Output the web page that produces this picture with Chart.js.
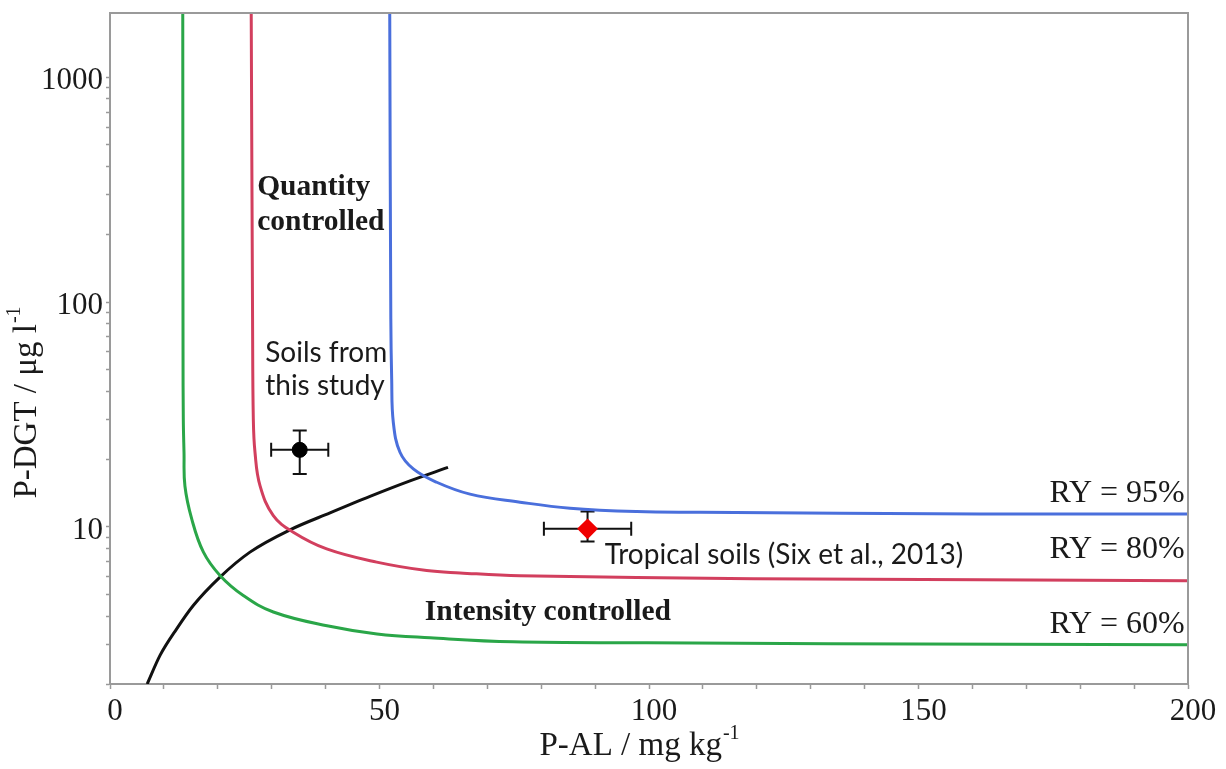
<!DOCTYPE html>
<html>
<head>
<meta charset="utf-8">
<script src="https://cdn.jsdelivr.net/npm/chart.js@4.4.0/dist/chart.umd.min.js"></script>
<style>
  html, body { margin: 0; padding: 0; background: #ffffff; }
  #wrap { width: 1226px; height: 769px; position: relative; }
  canvas { display: block; }
</style>
</head>
<body>
<div id="wrap"><canvas id="chart" width="1226" height="769"></canvas></div>
<script>
// Critical P-DGT / P-AL curves for three relative-yield levels
const pAL60  = [13.5, 13.55, 13.6, 13.73, 13.9, 15.16, 17.31, 20.41, 24.73, 30.3, 40.26, 49.54, 59.37, 74.77, 99.63, 133.6, 200];
const pDGT60 = [1930, 60, 30.2, 21.5, 15.2, 10.85, 7.74, 6.08, 4.95, 4.18, 3.63, 3.34, 3.21, 3.08, 3.05, 3.02, 2.99];

const pAL80  = [26.2, 26.45, 26.59, 26.9, 27.83, 30.3, 34.0, 40.2, 49.48, 58.76, 64.94, 76.07, 119.3, 161.4, 200];
const pDGT80 = [1930, 84, 30.2, 21.47, 15.26, 11.23, 9.47, 7.98, 6.97, 6.39, 6.24, 6.06, 5.88, 5.82, 5.76];

const pAL95  = [51.9, 52.1, 52.26, 52.56, 53.8, 56.27, 60.61, 66.79, 76.07, 85.34, 97.72, 109.46, 161.4, 200];
const pDGT95 = [1930, 84, 45.5, 29.2, 21.47, 18.1, 15.79, 13.98, 12.88, 12.1, 11.69, 11.62, 11.42, 11.42];

// Boundary between quantity- and intensity-controlled supply
const pALBoundary  = [6.9, 9.28, 12.37, 15.45, 20.41, 25.97, 33.4, 40.82, 48.24, 55.66, 62.71];
const pDGTBoundary = [2.0, 2.68, 3.52, 4.47, 5.98, 7.72, 9.70, 11.54, 13.66, 16.01, 18.38];

// Mean soil values with error ranges
const studyPAL = [35.2], studyPALErr = [5.3];
const studyDGT = [22.0], studyDGTLow = [17.2], studyDGTHigh = [26.8];
const tropPAL = [88.6], tropPALErr = [8.1];
const tropDGT = [9.8], tropDGTLow = [8.6], tropDGTHigh = [11.7];

// Axis ticks
const xTickValues = [0,10,20,30,40,50,60,70,80,90,100,110,120,130,140,150,160,170,180,190,200];
const xLabelValues = [0, 50, 100, 150, 200];
const yTickValues = [2,3,4,5,6,7,8,9,10,20,30,40,50,60,70,80,90,100,200,300,400,500,600,700,800,900,1000];
const yLabelValues = [10, 100, 1000];

const toXY = (xs, ys) => xs.map((x, i) => ({ x: x, y: ys[i] }));

const SERIF = '"Liberation Serif", "Times New Roman", serif';
const SANS = 'Lato, "Noto Sans", sans-serif';
const AXIS_GREY = '#9a9a9a';

const curve = (label, xs, ys, color, mode) => ({
  label: label,
  data: toXY(xs, ys),
  showLine: true,
  borderColor: color,
  borderWidth: 3,
  pointRadius: 0,
  tension: 0.4,
  cubicInterpolationMode: mode || 'default',
  fill: false
});

// Error bars for the soil means, drawn under the markers
const errorBars = {
  id: 'errorBars',
  beforeDatasetDraw(chart, args) {
    const ds = chart.data.datasets[args.index];
    if (!ds.errors) return;
    const xs = chart.scales.x, ys = chart.scales.y, ctx = chart.ctx;
    const e = ds.errors;
    ctx.save();
    ctx.strokeStyle = '#111';
    ctx.lineWidth = 2;
    const cap = 7;
    ds.data.forEach((p, i) => {
      const cx = xs.getPixelForValue(p.x), cy = ys.getPixelForValue(p.y);
      const xl = xs.getPixelForValue(p.x - e.xErr[i]), xr = xs.getPixelForValue(p.x + e.xErr[i]);
      const yt = ys.getPixelForValue(e.yHigh[i]), yb = ys.getPixelForValue(e.yLow[i]);
      ctx.beginPath();
      ctx.moveTo(xl, cy); ctx.lineTo(xr, cy);
      ctx.moveTo(xl, cy - cap); ctx.lineTo(xl, cy + cap);
      ctx.moveTo(xr, cy - cap); ctx.lineTo(xr, cy + cap);
      ctx.moveTo(cx, yt); ctx.lineTo(cx, yb);
      ctx.moveTo(cx - cap, yt); ctx.lineTo(cx + cap, yt);
      ctx.moveTo(cx - cap, yb); ctx.lineTo(cx + cap, yb);
      ctx.stroke();
    });
    ctx.restore();
  }
};

// Frame, axis titles and region annotations
const decorations = {
  id: 'decorations',
  afterDraw(chart) {
    const ctx = chart.ctx, a = chart.chartArea;
    const xs = chart.scales.x, ys = chart.scales.y;
    ctx.save();
    ctx.strokeStyle = AXIS_GREY;
    ctx.lineWidth = 2;
    ctx.beginPath();
    ctx.moveTo(a.left, a.top); ctx.lineTo(a.right, a.top); ctx.lineTo(a.right, a.bottom);
    ctx.stroke();

    ctx.fillStyle = '#1a1a1a';
    ctx.textBaseline = 'middle';
    const notes = [
      { t: 'Quantity', x: 27.3, y: 325, f: 'bold 29.5px ' + SERIF, al: 'left' },
      { t: 'controlled', x: 27.3, y: 225, f: 'bold 29.5px ' + SERIF, al: 'left' },
      { t: 'Soils from', x: 28.8, y: 59.3, f: '28px ' + SANS, al: 'left' },
      { t: 'this study', x: 28.8, y: 42.3, f: '28px ' + SANS, al: 'left' },
      { t: 'Tropical soils (Six et al., 2013)', x: 91.8, y: 7.5, f: '28px ' + SANS, al: 'left' },
      { t: 'Intensity controlled', x: 58.4, y: 4.15, f: 'bold 29.5px ' + SERIF, al: 'left' },
      { t: 'RY = 95%', x: 199.4, y: 14.0, f: '32px ' + SERIF, al: 'right' },
      { t: 'RY = 80%', x: 199.4, y: 7.9, f: '32px ' + SERIF, al: 'right' },
      { t: 'RY = 60%', x: 199.4, y: 3.66, f: '32px ' + SERIF, al: 'right' }
    ];
    notes.forEach(n => {
      ctx.font = n.f;
      ctx.textAlign = n.al;
      ctx.fillText(n.t, xs.getPixelForValue(n.x), ys.getPixelForValue(n.y));
    });

    // axis title with a superscript exponent
    const titleWithSup = (main, sup, cx, cy) => {
      ctx.font = '33px ' + SERIF;
      const w1 = ctx.measureText(main).width;
      ctx.font = '20px ' + SERIF;
      const w2 = ctx.measureText(sup).width;
      const start = cx - (w1 + w2) / 2;
      ctx.textAlign = 'left';
      ctx.font = '33px ' + SERIF;
      ctx.fillText(main, start, cy);
      ctx.font = '20px ' + SERIF;
      ctx.fillText(sup, start + w1 + 1, cy - 12);
    };
    titleWithSup('P-AL / mg kg', '-1', (a.left + a.right) / 2 - 10, 746);
    ctx.save();
    ctx.translate(27, 403);
    ctx.rotate(-Math.PI / 2);
    titleWithSup('P-DGT / \u03bcg l', '-1', 0, 0);
    ctx.restore();
    ctx.restore();
  }
};

new Chart(document.getElementById('chart'), {
  type: 'scatter',
  data: {
    datasets: [
      curve('RY = 60%', pAL60, pDGT60, '#2aa648'),
      curve('RY = 80%', pAL80, pDGT80, '#d23f5e'),
      curve('RY = 95%', pAL95, pDGT95, '#4a6fdc'),
      curve('Boundary', pALBoundary, pDGTBoundary, '#111111', 'monotone'),
      {
        label: 'Soils from this study',
        data: toXY(studyPAL, studyDGT),
        errors: { xErr: studyPALErr, yLow: studyDGTLow, yHigh: studyDGTHigh },
        pointStyle: 'circle', pointRadius: 7.5,
        backgroundColor: '#000', borderColor: '#000', borderWidth: 1
      },
      {
        label: 'Tropical soils (Six et al., 2013)',
        data: toXY(tropPAL, tropDGT),
        errors: { xErr: tropPALErr, yLow: tropDGTLow, yHigh: tropDGTHigh },
        pointStyle: 'rectRot', pointRadius: 9,
        backgroundColor: '#f00000', borderColor: '#f00000', borderWidth: 2
      }
    ]
  },
  options: {
    responsive: false,
    animation: false,
    devicePixelRatio: 1,
    layout: { padding: { left: 0, right: 38, top: 13, bottom: 0 } },
    plugins: { legend: { display: false }, tooltip: { enabled: false } },
    scales: {
      x: {
        type: 'linear', min: 0, max: 200,
        afterBuildTicks: s => { s.ticks = xTickValues.map(v => ({ value: v })); },
        afterFit: s => { s.height = 85; },
        ticks: {
          autoSkip: false, maxRotation: 0, padding: 4, labelOffset: 5,
          color: '#1a1a1a', font: { family: SERIF, size: 31 },
          callback: v => xLabelValues.includes(v) ? String(v) : ''
        },
        grid: { drawOnChartArea: false, drawTicks: true, tickLength: 5, tickColor: AXIS_GREY, tickWidth: 1.5 },
        border: { display: true, color: AXIS_GREY, width: 2 }
      },
      y: {
        type: 'logarithmic', min: 2, max: 1930,
        afterBuildTicks: s => { s.ticks = yTickValues.map(v => ({ value: v })); },
        afterFit: s => { s.width = 110; s.paddingTop = 0; s.paddingBottom = 0; },
        ticks: {
          autoSkip: false, padding: 3, labelOffset: 4,
          color: '#1a1a1a', font: { family: SERIF, size: 31 },
          callback: v => yLabelValues.includes(v) ? String(v) : ''
        },
        grid: { drawOnChartArea: false, drawTicks: true, tickLength: 4, tickColor: AXIS_GREY, tickWidth: 1.5 },
        border: { display: true, color: AXIS_GREY, width: 2 }
      }
    }
  },
  plugins: [errorBars, decorations]
});
</script>
</body>
</html>
